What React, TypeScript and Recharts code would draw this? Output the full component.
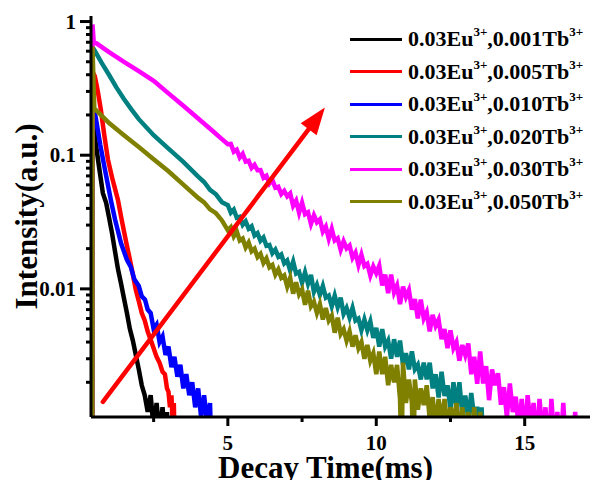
import React from "react";
import { LineChart, Line, XAxis, YAxis, ReferenceLine } from "recharts";

const FONT = '"Liberation Serif", "Times New Roman", serif';

// axis ranges and ticks
const X_DOMAIN: [number, number] = [0.39, 17.2];
const Y_DOMAIN: [number, number] = [0.0011, 1.1];
const X_TICKS = [2.5, 5, 7.5, 10, 12.5, 15];
const X_LABELS = [5, 10, 15];
const Y_TICKS = [
  0.002, 0.003, 0.004, 0.005, 0.006, 0.007, 0.008, 0.009, 0.01,
  0.02, 0.03, 0.04, 0.05, 0.06, 0.07, 0.08, 0.09, 0.1,
  0.2, 0.3, 0.4, 0.5, 0.6, 0.7, 0.8, 0.9, 1,
];
const Y_LABELS = [0.01, 0.1, 1];

// decay curves, [time ms, intensity]
const decay001: [number, number][] = [
  [0.44, 0.0005], [0.44, 0.2], [0.52, 0.137], [0.65, 0.085], [0.79, 0.052], [0.9, 0.044],
  [1.0, 0.034], [1.1, 0.026], [1.2, 0.019], [1.3, 0.014], [1.4, 0.011], [1.5, 0.0085],
  [1.6, 0.0066], [1.7, 0.005], [1.8, 0.0041], [1.9, 0.0032], [2.0, 0.0025], [2.1, 0.0019],
  [2.2, 0.0016], [2.3, 0.0012], [2.4, 0.0016], [2.5, 0.0009], [2.6, 0.0014], [2.7, 0.0008],
  [2.8, 0.0013], [2.9, 0.0007], [2.95, 0.0012], [3.0, 0.0005],
];

const decay005: [number, number][] = [
  [0.44, 0.0005], [0.44, 0.42], [0.52, 0.39], [0.62, 0.3], [0.72, 0.22], [0.84, 0.14],
  [0.96, 0.093], [1.1, 0.068], [1.2, 0.056], [1.3, 0.046], [1.4, 0.035], [1.5, 0.027],
  [1.6, 0.021], [1.7, 0.0166], [1.8, 0.0128], [1.9, 0.0098], [2.0, 0.0081], [2.1, 0.0066],
  [2.2, 0.0058], [2.3, 0.0048], [2.41, 0.0041], [2.5, 0.0036], [2.6, 0.0031], [2.7, 0.0028],
  [2.8, 0.0024], [2.88, 0.0023], [2.95, 0.0018], [3.0, 0.0017], [3.05, 0.0013], [3.1, 0.0016],
  [3.14, 0.001], [3.18, 0.0014], [3.22, 0.0005],
];

const decay010: [number, number][] = [
  [0.44, 0.0005], [0.44, 0.26], [0.56, 0.185], [0.7, 0.12], [0.86, 0.078], [1.06, 0.046],
  [1.2, 0.033], [1.3, 0.027], [1.4, 0.022], [1.5, 0.019], [1.6, 0.0165], [1.73, 0.0146],
  [1.85, 0.0118], [2.0, 0.0105], [2.1, 0.0088], [2.21, 0.0083], [2.3, 0.007], [2.4, 0.0066],
  [2.5, 0.005], [2.6, 0.0054], [2.7, 0.004], [2.8, 0.0044], [2.9, 0.0032], [3.0, 0.0037],
  [3.1, 0.0026], [3.2, 0.0031], [3.3, 0.0022], [3.4, 0.0027], [3.5, 0.0018], [3.6, 0.0023],
  [3.7, 0.0016], [3.8, 0.002], [3.9, 0.0013], [4.0, 0.0018], [4.1, 0.0011], [4.2, 0.0016],
  [4.3, 0.001], [4.4, 0.0014], [4.45, 0.0005],
];

const decay020: [number, number][] = [
  [0.44, 0.0005], [0.44, 0.646], [0.52, 0.603], [0.75, 0.49], [1.0, 0.398], [1.25, 0.32],
  [1.5, 0.263], [1.75, 0.22], [2.0, 0.186], [2.5, 0.141], [3.0, 0.112], [3.5, 0.0891],
  [4.0, 0.0692], [4.2, 0.063], [4.4, 0.055], [4.6, 0.051], [4.8, 0.0445],
  [5.0, 0.0423], [5.1, 0.0372], [5.2, 0.0392], [5.3, 0.0341], [5.4, 0.0346], [5.5, 0.0301],
  [5.6, 0.032], [5.7, 0.0282], [5.8, 0.0294], [5.9, 0.0251], [6.0, 0.0261], [6.1, 0.0229],
  [6.2, 0.0242], [6.3, 0.021], [6.4, 0.0213], [6.5, 0.0185], [6.6, 0.0197], [6.7, 0.0174],
  [6.8, 0.0181], [6.9, 0.0155],
  [7.0, 0.0163], [7.1, 0.0137], [7.2, 0.016], [7.3, 0.013], [7.4, 0.0134], [7.5, 0.0111],
  [7.6, 0.0133], [7.7, 0.0109], [7.8, 0.0127], [7.9, 0.0095], [8.0, 0.0107], [8.1, 0.009],
  [8.2, 0.0105], [8.3, 0.0086], [8.4, 0.0089], [8.5, 0.0074], [8.6, 0.0089], [8.7, 0.0073],
  [8.8, 0.0086], [8.9, 0.0065], [9.0, 0.0072], [9.1, 0.0061], [9.2, 0.0072], [9.3, 0.0058],
  [9.4, 0.006], [9.5, 0.0049], [9.6, 0.0059], [9.7, 0.0049], [9.8, 0.0057], [9.9, 0.0043],
  [10.0, 0.0051], [10.1, 0.0037], [10.2, 0.005], [10.3, 0.0037], [10.4, 0.0041], [10.5, 0.003],
  [10.6, 0.0042], [10.7, 0.0031], [10.8, 0.0041], [10.9, 0.0027], [11.0, 0.0033], [11.1, 0.0025],
  [11.2, 0.0034], [11.3, 0.0025], [11.4, 0.0027], [11.5, 0.0021], [11.6, 0.0028], [11.7, 0.0021],
  [11.8, 0.0028], [11.9, 0.0018], [12.0, 0.0023], [12.1, 0.00154], [12.2, 0.0024], [12.3, 0.00158],
  [12.4, 0.0019], [12.5, 0.00125], [12.6, 0.002], [12.7, 0.0013], [12.8, 0.002], [12.9, 0.00114],
  [13.0, 0.00159], [13.1, 0.00106], [13.2, 0.00166], [13.3, 0.00108], [13.4, 0.00131], [13.5, 0.0009],
  [13.55, 0.0013], [13.6, 0.0005],
];

const decay030: [number, number][] = [
  [0.44, 0.0005], [0.44, 0.95], [0.48, 0.71], [1.0, 0.59], [1.5, 0.5], [2.0, 0.425],
  [2.5, 0.36], [3.0, 0.29], [3.5, 0.234], [4.0, 0.188], [4.5, 0.151], [4.8, 0.132],
  [5.0, 0.121], [5.1, 0.1215], [5.2, 0.1062], [5.3, 0.1099], [5.4, 0.096], [5.5, 0.1024],
  [5.6, 0.0896], [5.7, 0.0909], [5.8, 0.0802], [5.9, 0.0847], [6.0, 0.0772], [6.1, 0.0775],
  [6.2, 0.0677], [6.3, 0.0701], [6.4, 0.0613], [6.5, 0.0653], [6.6, 0.0571], [6.7, 0.058],
  [6.8, 0.0511], [6.9, 0.0541],
  [7.0, 0.0493], [7.1, 0.0518], [7.2, 0.0419], [7.3, 0.0457], [7.4, 0.0371], [7.5, 0.0441],
  [7.6, 0.0362], [7.7, 0.0374], [7.8, 0.0306], [7.9, 0.0355], [8.0, 0.0315], [8.1, 0.0331],
  [8.2, 0.0268], [8.3, 0.0292], [8.4, 0.0237], [8.5, 0.0281], [8.6, 0.023], [8.7, 0.0239],
  [8.8, 0.0196], [8.9, 0.0227], [9.0, 0.0201], [9.1, 0.0211], [9.2, 0.0171], [9.3, 0.0187],
  [9.4, 0.0151], [9.5, 0.018], [9.6, 0.0148], [9.7, 0.0154], [9.8, 0.0126], [9.9, 0.0147],
  [10.0, 0.0131], [10.1, 0.0149], [10.2, 0.0106], [10.3, 0.0128], [10.4, 0.0093], [10.5, 0.0128],
  [10.6, 0.0094], [10.7, 0.0106], [10.8, 0.0077], [10.9, 0.0104], [11.0, 0.0087], [11.1, 0.0098],
  [11.2, 0.007], [11.3, 0.0084], [11.4, 0.006], [11.5, 0.0083], [11.6, 0.006], [11.7, 0.0067],
  [11.8, 0.0048], [11.9, 0.0064], [12.0, 0.0053], [12.1, 0.0059], [12.2, 0.0042], [12.3, 0.005],
  [12.4, 0.0036], [12.5, 0.0049], [12.6, 0.0036], [12.7, 0.004], [12.8, 0.0029], [12.9, 0.0038],
  [13.0, 0.0032], [13.1, 0.0039], [13.2, 0.0023], [13.3, 0.0031], [13.4, 0.00195], [13.5, 0.0034],
  [13.6, 0.00196], [13.7, 0.00264], [13.8, 0.00147], [13.9, 0.0025], [14.0, 0.0019], [14.1, 0.00234],
  [14.2, 0.00136], [14.3, 0.00184], [14.4, 0.0011], [14.5, 0.00196], [14.6, 0.0012], [14.7, 0.00156],
  [14.8, 0.0009], [14.9, 0.0015], [15.0, 0.0008], [15.1, 0.0016], [15.2, 0.0009], [15.3, 0.0014],
  [15.4, 0.0007], [15.5, 0.0015], [15.6, 0.0008], [15.7, 0.0013], [15.8, 0.0006], [15.9, 0.0015],
  [16.0, 0.0007], [16.1, 0.0012], [16.2, 0.0006], [16.3, 0.0014], [16.4, 0.0006], [16.5, 0.0011],
  [16.6, 0.0005], [16.7, 0.0012], [16.8, 0.0005], [16.9, 0.0005], [17.0, 0.0011], [17.05, 0.0005],
];

const decay050: [number, number][] = [
  [0.44, 0.0005], [0.44, 0.65], [0.5, 0.224], [1.0, 0.174], [1.5, 0.141], [2.0, 0.115],
  [2.5, 0.0933], [3.0, 0.0759], [3.5, 0.0603], [4.0, 0.0479], [4.2, 0.0444], [4.4, 0.0393],
  [4.6, 0.0368], [4.8, 0.0325],
  [5.0, 0.0274], [5.1, 0.0289], [5.2, 0.0247], [5.3, 0.0269], [5.4, 0.023], [5.5, 0.0238],
  [5.6, 0.0204], [5.7, 0.0222], [5.8, 0.0191], [5.9, 0.02], [6.0, 0.0173], [6.1, 0.0183],
  [6.2, 0.0156], [6.3, 0.0169], [6.4, 0.0145], [6.5, 0.0151], [6.6, 0.0128], [6.7, 0.014],
  [6.8, 0.0121], [6.9, 0.0126],
  [7.0, 0.0104], [7.1, 0.0121], [7.2, 0.0092], [7.3, 0.0112], [7.4, 0.0091], [7.5, 0.0099],
  [7.6, 0.0076], [7.7, 0.0097], [7.8, 0.0074], [7.9, 0.008], [8.0, 0.0066], [8.1, 0.0077],
  [8.2, 0.0059], [8.3, 0.0072], [8.4, 0.0058], [8.5, 0.0063], [8.6, 0.0047], [8.7, 0.0061],
  [8.8, 0.0046], [8.9, 0.005], [9.0, 0.0041], [9.1, 0.0048], [9.2, 0.0037], [9.3, 0.0045],
  [9.4, 0.0036], [9.5, 0.004], [9.6, 0.003], [9.7, 0.0038], [9.8, 0.0029], [9.9, 0.0033],
  [10.0, 0.0023], [10.1, 0.0034], [10.2, 0.0023], [10.3, 0.0031], [10.4, 0.0019], [10.5, 0.0027],
  [10.6, 0.002], [10.7, 0.0027], [10.8, 0.0015], [10.85, 0.0005], [10.9, 0.0028], [11.0, 0.0014],
  [11.1, 0.0021], [11.2, 0.0014], [11.25, 0.0005], [11.3, 0.0021], [11.4, 0.00125], [11.5, 0.0018],
  [11.6, 0.00135], [11.7, 0.0019], [11.8, 0.00105], [11.9, 0.00155], [12.0, 0.0009], [12.1, 0.0015],
  [12.2, 0.001], [12.3, 0.0015], [12.4, 0.0009], [12.5, 0.0013], [12.6, 0.001], [12.7, 0.0014],
  [12.8, 0.0008], [12.9, 0.0013], [13.0, 0.0008], [13.1, 0.0012], [13.2, 0.0007], [13.3, 0.0013],
  [13.4, 0.0006], [13.5, 0.0012], [13.6, 0.0006], [13.65, 0.0011], [13.7, 0.0005],
];

const TB_LEVELS = ["0.001", "0.005", "0.010", "0.020", "0.030", "0.050"];
const COLORS = ["#000000", "#ff0000", "#0000ff", "#008080", "#ff00ff", "#808000"];
const CURVES = [decay001, decay005, decay010, decay020, decay030, decay050];

// red trend arrow, in data units
const ARROW_FROM = { x: 0.79, y: 0.00143 };
const ARROW_TO = { x: 8.27, y: 0.227 };

const isLabel = (list: number[], v: number) => list.some((l) => Math.abs(l - v) / l < 1e-6);

function XTick({ x, y, payload }: any) {
  const major = isLabel(X_LABELS, payload.value);
  return (
    <g>
      <line x1={x} x2={x} y1={y} y2={y + (major ? 9 : 5)} stroke="#000" strokeWidth={3} />
      {major && (
        <text x={x} y={y + 33} textAnchor="middle" fontFamily={FONT} fontWeight="bold" fontSize={21} fill="#000">
          {payload.value}
        </text>
      )}
    </g>
  );
}

function YTick({ x, y, payload }: any) {
  const major = isLabel(Y_LABELS, payload.value);
  return (
    <g>
      <line x1={x} x2={x - (major ? 11 : 5)} y1={y} y2={y} stroke="#000" strokeWidth={3} />
      {major && (
        <text x={x - 15} y={y + 7} textAnchor="end" fontFamily={FONT} fontWeight="bold" fontSize={21} fill="#000">
          {String(payload.value)}
        </text>
      )}
    </g>
  );
}

function Arrow(props: any) {
  const { x1, y1, x2, y2 } = props;
  const len = Math.hypot(x2 - x1, y2 - y1);
  const ux = (x2 - x1) / len;
  const uy = (y2 - y1) / len;
  const head = 27;
  const half = 10;
  const bx = x2 - ux * head;
  const by = y2 - uy * head;
  const pts = [
    `${x2},${y2}`,
    `${bx - uy * half},${by + ux * half}`,
    `${bx + uy * half},${by - ux * half}`,
  ].join(" ");
  return (
    <g>
      <line x1={x1} y1={y1} x2={bx + ux * 2} y2={by + uy * 2} stroke="#ff0000" strokeWidth={4.5} strokeLinecap="round" />
      <polygon points={pts} fill="#ff0000" />
    </g>
  );
}

const SUP: React.CSSProperties = { fontSize: 13, position: "relative", top: -10 };

export default function App() {
  const axisLine = { stroke: "#000", strokeWidth: 3 };
  const labelStyle = { fontFamily: FONT, fontWeight: "bold", fontSize: 31, fill: "#000" };

  return (
    <div style={{ position: "absolute", left: 0, top: 0, width: 591, height: 480, overflow: "hidden", background: "#fff" }}>
      <LineChart width={591} height={480} margin={{ top: 16, right: 1, bottom: 0, left: 0 }}>
        <XAxis
          xAxisId="top"
          orientation="top"
          type="number"
          domain={X_DOMAIN}
          allowDataOverflow
          height={0}
          tick={false}
          tickLine={false}
          axisLine={axisLine}
        />
        <XAxis
          dataKey="t"
          type="number"
          domain={X_DOMAIN}
          allowDataOverflow
          ticks={X_TICKS}
          interval={0}
          height={63}
          tickSize={0}
          tickMargin={0}
          tickLine={false}
          tick={(p: any) => <XTick {...p} />}
          axisLine={axisLine}
          label={{ value: "Decay Time(ms)", position: "insideBottom", offset: 2, dx: -15, style: labelStyle }}
        />
        <YAxis
          type="number"
          scale="log"
          domain={Y_DOMAIN}
          allowDataOverflow
          ticks={Y_TICKS}
          interval={0}
          width={91}
          tickSize={0}
          tickMargin={0}
          tickLine={false}
          tick={(p: any) => <YTick {...p} />}
          axisLine={axisLine}
          label={{
            value: "Intensity(a.u.)",
            angle: -90,
            position: "insideLeft",
            offset: 26,
            style: { ...labelStyle, textAnchor: "middle" },
          }}
        />
        {CURVES.map((curve, i) => (
          <Line
            key={TB_LEVELS[i]}
            data={curve.map(([t, v]) => ({ t, v }))}
            dataKey="v"
            type="linear"
            stroke={COLORS[i]}
            strokeWidth={4.5}
            dot={false}
            activeDot={false}
            isAnimationActive={false}
          />
        ))}
        <ReferenceLine segment={[ARROW_FROM, ARROW_TO]} shape={Arrow} />
      </LineChart>
      <div
        style={{
          position: "absolute",
          left: 350,
          top: 22.75,
          fontFamily: FONT,
          fontWeight: "bold",
          fontSize: 22,
          color: "#000",
        }}
      >
        {TB_LEVELS.map((lvl, i) => (
          <div key={lvl} style={{ display: "flex", alignItems: "center", height: 32.5, whiteSpace: "nowrap" }}>
            <div style={{ width: 52, height: 3, background: COLORS[i], marginRight: 6 }} />
            <span>
              0.03Eu<span style={SUP}>3+</span>,{lvl}Tb<span style={SUP}>3+</span>
            </span>
          </div>
        ))}
      </div>
    </div>
  );
}
